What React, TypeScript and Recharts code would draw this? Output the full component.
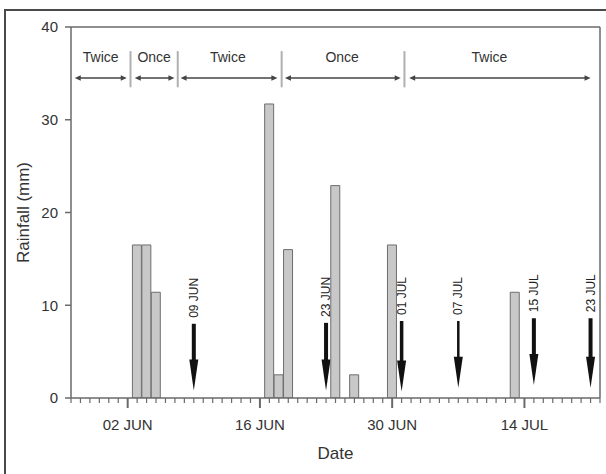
import React from 'react';
import {
  ComposedChart,
  Bar,
  XAxis,
  YAxis,
  ReferenceArea,
  ReferenceLine,
  Label,
} from 'recharts';

// ---- data ----------------------------------------------------------------
const firstDate = '27 MAY';
const lastDate = '22 JUL';

const rainDates = ['03 JUN', '04 JUN', '05 JUN', '17 JUN', '18 JUN', '19 JUN', '24 JUN', '26 JUN', '30 JUN', '13 JUL'];
const rainfallMm = [16.5, 16.5, 11.4, 31.7, 2.5, 16.0, 22.9, 2.5, 16.5, 11.4];

const labelledTickDates = ['02 JUN', '16 JUN', '30 JUN', '14 JUL'];
const yTicks = [0, 10, 20, 30, 40];

// sampling events (arrows)
const eventLabels = ['09 JUN', '23 JUN', '01 JUL', '07 JUL', '15 JUL', '23 JUL'];
const eventMarkDates = ['09 JUN', '23 JUN', '01 JUL', '07 JUL', '15 JUL', '21 JUL'];
const eventTopMm = [8.0, 8.1, 8.3, 8.3, 8.6, 8.6];
const eventTipMm = [0.8, 0.8, 0.7, 1.1, 1.4, 1.1];
const eventShaft = [4, 4, 3.5, 2.5, 4, 4];

// irrigation frequency periods
const periodNames = ['Twice', 'Once', 'Twice', 'Once', 'Twice'];
const periodStart = [0.4, 6.75, 11.6, 22.65, 35.8];
const periodEnd = [5.9, 10.95, 21.85, 34.9, 55.0];
const periodLabelAt = [3.15, 8.8, 16.6, 28.7, 44.3];
const periodBreaks = [6.3, 11.3, 22.3, 35.3];
const periodArrowMm = 34.5;
const periodTextMm = 36.8;
const periodBreakLow = 33.5;
const periodBreakHigh = 37.4;

// ---- helpers -------------------------------------------------------------
const monthStart: Record<string, number> = { MAY: -27, JUN: 4, JUL: 34 };
const dayIndex = (d: string) => {
  const [dd, mon] = d.split(' ');
  return Number(dd) + monthStart[mon];
};

const startDay = dayIndex(firstDate);
const endDay = dayIndex(lastDate);
const allDays: number[] = [];
for (let d = startDay; d <= endDay; d++) allDays.push(d);
const labelledDays = labelledTickDates.map(dayIndex);

const rainData = rainDates.map((d, i) => ({ day: dayIndex(d), rain: rainfallMm[i] }));

const TEXT = '#333';
const AXIS = '#6a6a6a';
const FONT = 'Liberation Sans, Arial, Helvetica, sans-serif';

const DayTick = (props: any) => {
  const { x, y, payload } = props;
  const idx = labelledDays.indexOf(payload.value);
  const major = idx >= 0;
  return (
    <g>
      <line x1={x} x2={x} y1={y} y2={y + (major ? 10 : 5)} stroke={AXIS} strokeWidth={major ? 2 : 1.2} />
      {major && (
        <text x={x} y={y + 28} textAnchor="middle" dominantBaseline="middle" fontSize={15} fill={TEXT} fontFamily={FONT}>
          {labelledTickDates[idx]}
        </text>
      )}
    </g>
  );
};

const eventArrow = (i: number) => (props: any) => {
  const { x, y, width, height } = props;
  const cx = x + width / 2;
  const tip = y + height;
  const headLen = 31;
  const headHalf = 4.5;
  const sw = eventShaft[i];
  return (
    <g>
      <text
        x={cx}
        y={y - 6}
        transform={`rotate(-90 ${cx} ${y - 6})`}
        textAnchor="start"
        dominantBaseline="central"
        fontSize={12}
        fill="#222"
        fontFamily={FONT}
      >
        {eventLabels[i]}
      </text>
      <rect x={cx - sw / 2} y={y} width={sw} height={height - headLen + 2} fill="#111" />
      <path d={`M${cx - headHalf},${tip - headLen} L${cx + headHalf},${tip - headLen} L${cx},${tip} Z`} fill="#111" />
    </g>
  );
};

const periodShape = (i: number) => (props: any) => {
  const { x, y, width, height } = props;
  const ay = y + height;
  const h = 6;
  const w = 2.8;
  const lx = x + ((periodLabelAt[i] - periodStart[i]) / (periodEnd[i] - periodStart[i])) * width;
  return (
    <g>
      <text x={lx} y={y} textAnchor="middle" dominantBaseline="central" fontSize={14} fill={TEXT} fontFamily={FONT}>
        {periodNames[i]}
      </text>
      <line x1={x + h - 1} x2={x + width - h + 1} y1={ay} y2={ay} stroke="#444" strokeWidth={1.5} />
      <path d={`M${x},${ay} L${x + h},${ay - w} L${x + h},${ay + w} Z`} fill="#444" />
      <path d={`M${x + width},${ay} L${x + width - h},${ay - w} L${x + width - h},${ay + w} Z`} fill="#444" />
    </g>
  );
};

export default function App() {
  return (
    <div style={{ position: 'absolute', left: 0, top: 0, width: 606, height: 474, overflow: 'hidden', background: '#fff' }}>
      <div
        style={{
          position: 'absolute',
          left: 4,
          top: 9,
          width: 700,
          height: 600,
          borderTop: '2px solid #4a4a4a',
          borderLeft: '2px solid #4a4a4a',
        }}
      />
      <div style={{ position: 'absolute', left: 0, top: 0 }}>
        <ComposedChart
          width={606}
          height={474}
          data={rainData}
          margin={{ top: 27, right: 6, bottom: 0, left: 0 }}
          barCategoryGap={0}
          barGap={0}
        >
          <XAxis
            dataKey="day"
            type="number"
            domain={[startDay, endDay]}
            ticks={allDays}
            interval={0}
            tickLine={false}
            tickSize={0}
            tickMargin={0}
            tick={<DayTick />}
            height={76}
            stroke={AXIS}
            strokeWidth={1.5}
            allowDataOverflow
          >
            <Label
              content={({ viewBox }: any) => (
                <text
                  x={viewBox.x + viewBox.width / 2}
                  y={viewBox.y + 57}
                  textAnchor="middle"
                  dominantBaseline="middle"
                  fontSize={17}
                  fill={TEXT}
                  fontFamily={FONT}
                >
                  Date
                </text>
              )}
            />
          </XAxis>
          <YAxis
            type="number"
            domain={[0, 40]}
            ticks={yTicks}
            interval={0}
            width={71}
            tickSize={6}
            tickMargin={7}
            stroke={AXIS}
            strokeWidth={1.5}
            tick={{ fontSize: 15, fill: TEXT, fontFamily: FONT }}
            allowDataOverflow
          >
            <Label
              content={({ viewBox }: any) => {
                const cx = viewBox.x + 25;
                const cy = viewBox.y + viewBox.height / 2;
                return (
                  <text
                    x={cx}
                    y={cy}
                    transform={`rotate(-90 ${cx} ${cy})`}
                    textAnchor="middle"
                    dominantBaseline="middle"
                    fontSize={17}
                    fill={TEXT}
                    fontFamily={FONT}
                  >
                    Rainfall (mm)
                  </text>
                );
              }}
            />
          </YAxis>

          <ReferenceLine y={40} stroke={AXIS} strokeWidth={1.5} />
          <ReferenceLine x={endDay} stroke={AXIS} strokeWidth={1.5} />

          {periodBreaks.map((b, i) => (
            <ReferenceLine
              key={`brk${i}`}
              segment={[
                { x: b, y: periodBreakLow },
                { x: b, y: periodBreakHigh },
              ]}
              stroke="#b0b0b0"
              strokeWidth={2}
            />
          ))}
          {periodNames.map((_, i) => (
            <ReferenceArea
              key={`per${i}`}
              x1={periodStart[i]}
              x2={periodEnd[i]}
              y1={periodArrowMm}
              y2={periodTextMm}
              shape={periodShape(i)}
            />
          ))}

          <Bar dataKey="rain" fill="#c8c8c8" stroke="#6e6e6e" strokeWidth={1} isAnimationActive={false} />

          {eventMarkDates.map((d, i) => (
            <ReferenceArea
              key={`ev${i}`}
              x1={dayIndex(d) - 0.3}
              x2={dayIndex(d) + 0.3}
              y1={eventTipMm[i]}
              y2={eventTopMm[i]}
              shape={eventArrow(i)}
            />
          ))}
        </ComposedChart>
      </div>
    </div>
  );
}
